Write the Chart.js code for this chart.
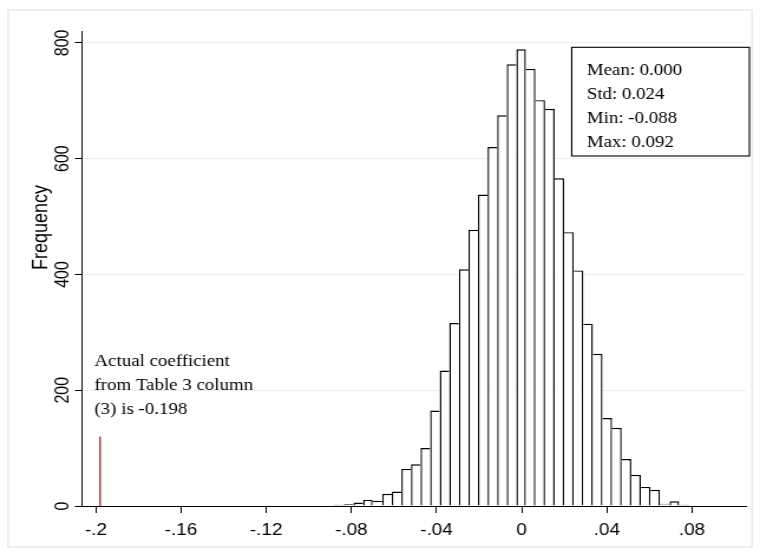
<!DOCTYPE html>
<html>
<head>
<meta charset="utf-8">
<script src="https://cdn.jsdelivr.net/npm/chart.js@4.4.1/dist/chart.umd.min.js"></script>
<style>
  html, body { margin: 0; padding: 0; background: #fff; overflow: hidden; }
  #wrap { width: 760px; height: 557px; overflow: hidden; }
  /* the source graph is drawn wider than tall, so the canvas is stretched sideways */
  #chart { display: block; transform: scaleX(1.18012); transform-origin: 0 0; }
</style>
</head>
<body>
<div id="wrap"><canvas id="chart" width="644" height="557"></canvas></div>
<script>
// Histogram: 40 bins of width 0.0045 from -0.088 to 0.092
const binCenters = [
  -0.08575, -0.08125, -0.07675, -0.07225, -0.06775, -0.06325, -0.05875, -0.05425,
  -0.04975, -0.04525, -0.04075, -0.03625, -0.03175, -0.02725, -0.02275, -0.01825,
  -0.01375, -0.00925, -0.00475, -0.00025, 0.00425, 0.00875, 0.01325, 0.01775,
  0.02225, 0.02675, 0.03125, 0.03575, 0.04025, 0.04475, 0.04925, 0.05375,
  0.05825, 0.06275, 0.06725, 0.07175, 0.07625, 0.08075, 0.08525, 0.08975
];
const frequencies = [
  2, 3, 6, 11, 9, 21, 25, 64,
  72, 100, 165, 234, 316, 409, 477, 538,
  620, 675, 763, 789, 755, 701, 686, 566,
  473, 407, 315, 263, 152, 135, 81, 54,
  33, 28, 4, 8, 2, 1, 0, 1
];
const xTickValues = [-0.2, -0.16, -0.12, -0.08, -0.04, 0, 0.04, 0.08];
const xTickLabels = ["-.2", "-.16", "-.12", "-.08", "-.04", "0", ".04", ".08"];
const yTickValues = [0, 200, 400, 600, 800];
const actualCoef = -0.198;
const actualLineTop = 120;
const statLines = ["Mean: 0.000", "Std: 0.024", "Min: -0.088", "Max: 0.092"];
const noteLines = ["Actual coefficient", "from Table 3 column", "(3) is -0.198"];

const sans = "'Liberation Sans', Arial, sans-serif";
const serif = "'Liberation Serif', 'Times New Roman', serif";

// extra drawing: outer frame, y title, note text and stats box
const decorations = {
  id: "decorations",
  beforeDraw(chart) {
    const c = chart.ctx;
    c.save();
    c.fillStyle = "#fff";
    c.fillRect(0, 0, chart.width, chart.height);
    c.strokeStyle = "#e3ebee";
    c.lineWidth = 1.5;
    c.strokeRect(6.8, 10, 630.4, 537);
    c.restore();
  },
  afterDraw(chart) {
    const c = chart.ctx;
    const area = chart.chartArea;
    const xs = chart.scales.x, ys = chart.scales.y;
    c.save();

    c.fillStyle = "#000";
    c.font = "18px " + sans;
    c.textAlign = "center";
    c.textBaseline = "middle";
    c.translate(34.7, 227.5);
    c.rotate(-Math.PI / 2);
    c.fillText("Frequency", 0, 0);
    c.setTransform(1, 0, 0, 1, 0, 0);

    c.font = "16px " + serif;
    c.textAlign = "left";
    c.textBaseline = "alphabetic";
    const nx = xs.getPixelForValue(-0.2) - 1.2;
    const ny = ys.getPixelForValue(200);
    noteLines.forEach((t, i) => c.fillText(t, nx, ny - 24.5 + i * 24));

    const bw = 150.6, bh = 108.7;
    const bx = area.right + 2.9 - bw, by = area.top + 16;
    c.fillStyle = "#fff";
    c.fillRect(bx, by, bw, bh);
    c.strokeStyle = "#000";
    c.lineWidth = 1.1;
    c.strokeRect(bx, by, bw, bh);
    c.fillStyle = "#000";
    statLines.forEach((t, i) => c.fillText(t, bx + 12.8, by + 27.6 + i * 24));
    c.restore();
  }
};

new Chart(document.getElementById("chart"), {
  type: "bar",
  data: {
    datasets: [
      {
        type: "bar",
        data: binCenters.map((x, i) => ({ x: x, y: frequencies[i] })),
        backgroundColor: "#fff",
        borderColor: "#000",
        borderWidth: ctx => {
          const i = ctx.dataIndex;
          if (i === undefined) return 1;
          const h = frequencies[i];
          const prev = frequencies[i - 1], next = frequencies[i + 1];
          return {
            top: 1.4,
            left: (prev === undefined || prev < h) ? 1.4 : 0,
            right: (next === undefined || next <= h) ? 1.4 : 0,
            bottom: 0
          };
        },
        barPercentage: 1,
        categoryPercentage: 1,
        inflateAmount: 0,
        order: 2
      },
      {
        type: "line",
        data: [{ x: actualCoef, y: 0 }, { x: actualCoef, y: actualLineTop }],
        borderColor: "#8f2b34",
        borderWidth: 1.3,
        pointRadius: 0,
        order: 1
      }
    ]
  },
  options: {
    responsive: false,
    animation: false,
    layout: { padding: { left: 0, right: 11.86, top: 31.3, bottom: 0 } },
    plugins: { legend: { display: false }, tooltip: { enabled: false } },
    scales: {
      x: {
        type: "linear",
        offset: false,
        min: -0.2065,
        max: 0.1054,
        afterBuildTicks: s => { s.ticks = xTickValues.map(v => ({ value: v })); },
        afterFit: s => { s.height = 51; },
        grid: { offset: false, drawOnChartArea: false, drawTicks: true, tickLength: 7, tickColor: "#000", tickWidth: 1 },
        border: { color: "#000", width: 1 },
        ticks: {
          color: "#000",
          padding: 8,
          maxRotation: 0,
          autoSkip: false,
          font: { family: sans, size: 16 },
          callback: (v, i) => xTickLabels[i]
        }
      },
      y: {
        type: "linear",
        min: 0,
        max: 820,
        afterBuildTicks: s => { s.ticks = yTickValues.map(v => ({ value: v })); },
        afterFit: s => { s.width = 69.5; },
        grid: { color: "#e8eef1", lineWidth: 1, drawTicks: true, tickLength: 6, tickColor: "#000" },
        border: { color: "#000", width: 1 },
        ticks: {
          color: "#000",
          padding: -3.5,
          crossAlign: "center",
          minRotation: 90,
          maxRotation: 90,
          autoSkip: false,
          font: { family: sans, size: 16 }
        }
      }
    }
  },
  plugins: [decorations]
});
</script>
</body>
</html>
